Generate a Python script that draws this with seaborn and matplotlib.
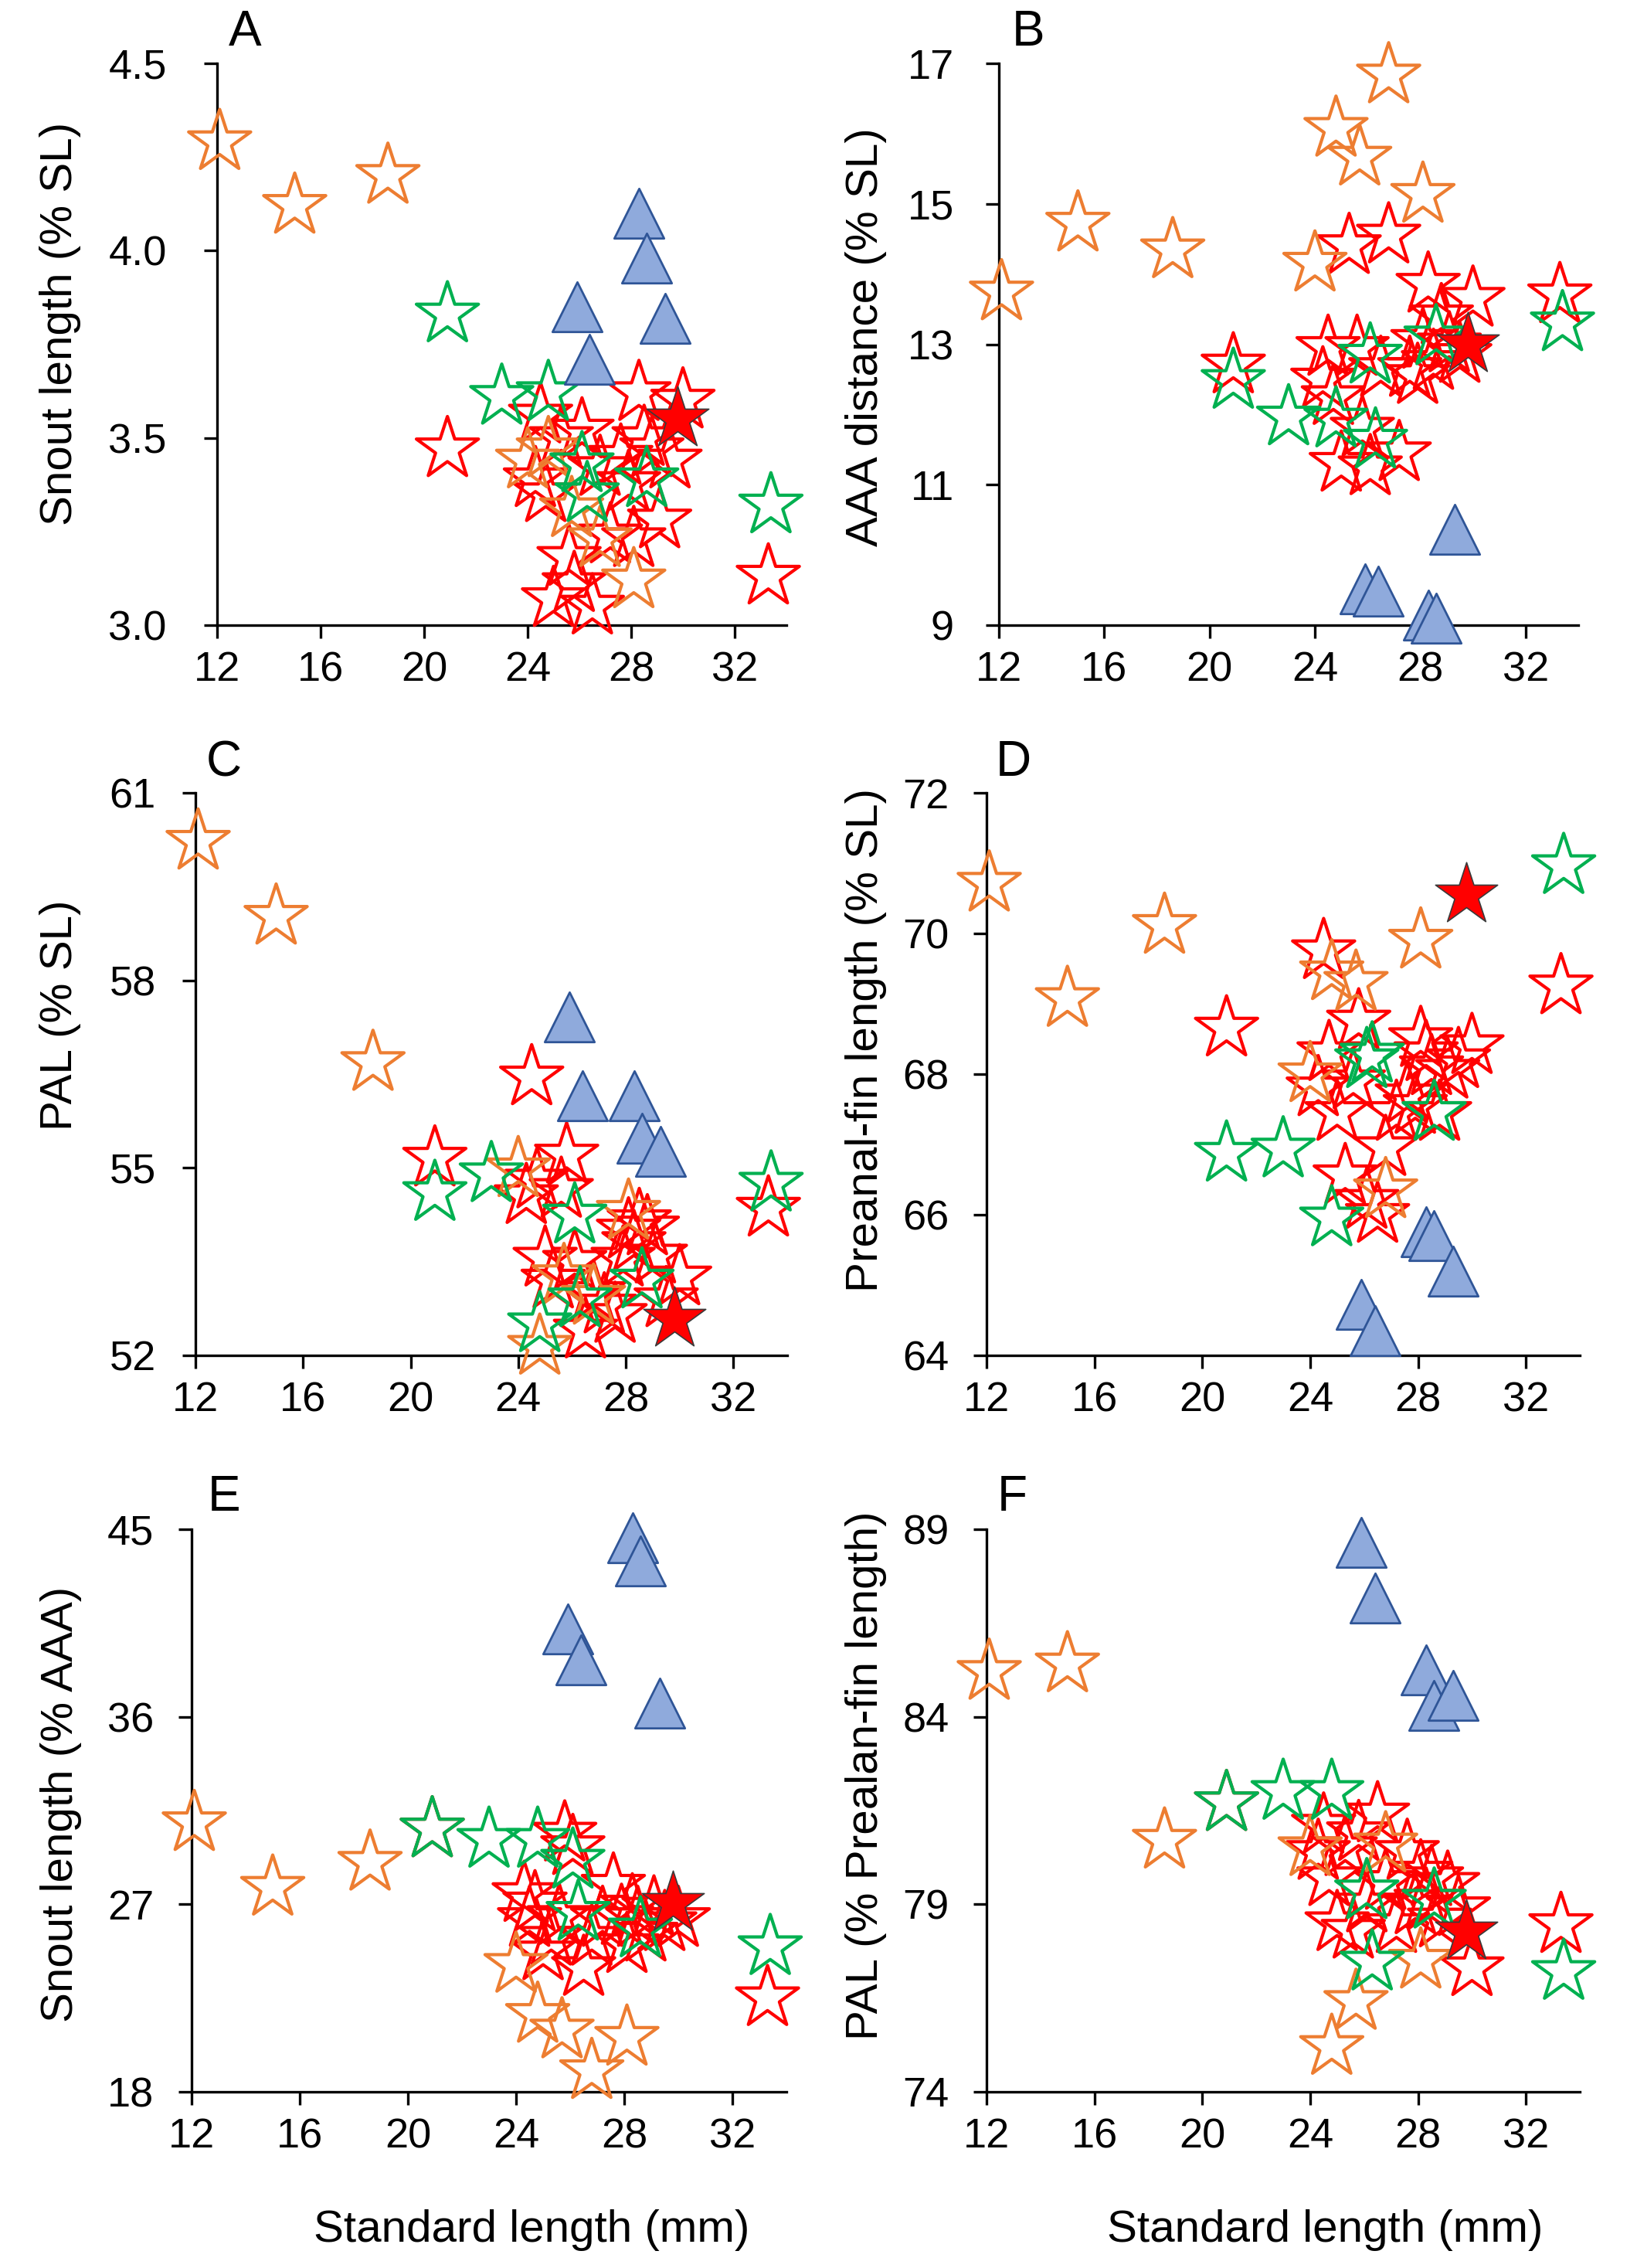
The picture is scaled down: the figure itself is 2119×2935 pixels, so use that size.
import matplotlib
matplotlib.use("Agg")
import matplotlib.pyplot as plt
from matplotlib.ticker import FormatStrFormatter
import seaborn as sns

# standard length (mm) of each group of specimens
sl_orange = [12.1, 15.0, 18.6, 24.0, 24.8, 25.7, 26.8, 28.1]
sl_red = [20.9, 24.3, 24.5, 24.7, 25.0, 25.3, 25.6, 25.8, 26.1, 26.5, 26.8,
          27.2, 27.6, 27.9, 28.1, 28.3, 28.5, 28.8, 29.1, 29.5, 30.0, 33.3]
sl_green = [20.9, 23.0, 24.8, 26.1, 26.3, 28.6, 33.4]
sl_blue = [25.9, 26.4, 28.3, 28.6, 29.3]
sl_holotype = [29.8]

# A: snout length (% SL)
snout_sl_orange = [4.29, 4.12, 4.20, 3.44, 3.47, 3.31, 3.23, 3.12]
snout_sl_red = [3.47, 3.39, 3.56, 3.35, 3.07, 3.50, 3.18, 3.11, 3.52, 3.05, 3.42,
                3.24, 3.45, 3.38, 3.23, 3.62, 3.50, 3.47, 3.28, 3.44, 3.60, 3.13]
snout_sl_green = [3.83, 3.61, 3.62, 3.43, 3.35, 3.39, 3.32]
snout_sl_blue = [3.85, 3.71, 4.10, 3.98, 3.82]
snout_sl_holotype = [3.55]

# B: AAA distance (% SL)
aaa_sl_orange = [13.74, 14.72, 14.34, 14.15, 16.07, 15.66, 16.83, 15.13]
aaa_sl_red = [12.70, 12.50, 12.95, 12.25, 11.30, 14.40, 12.95, 11.80, 11.25, 12.65, 14.55,
              11.45, 12.65, 12.55, 13.05, 13.85, 12.75, 13.40, 13.00, 12.85, 13.65, 13.70]
aaa_sl_green = [12.48, 11.96, 11.93, 12.84, 11.63, 13.10, 13.30]
aaa_sl_blue = [9.52, 9.48, 9.14, 9.10, 10.37]
aaa_sl_holotype = [13.0]

# C: PAL (% SL)
pal_sl_orange = [60.22, 59.02, 56.68, 54.98, 52.14, 53.27, 52.94, 54.30]
pal_sl_red = [55.15, 54.55, 56.45, 54.80, 53.55, 53.20, 54.65, 55.20, 53.50, 52.40, 53.00,
              52.80, 52.65, 53.55, 54.00, 53.80, 54.15, 54.05, 53.60, 52.90, 53.25, 54.35]
pal_sl_green = [54.60, 54.90, 52.50, 54.24, 52.90, 53.20, 54.75]
pal_sl_blue = [57.42, 56.15, 56.15, 55.47, 55.26]
pal_sl_holotype = [52.58]

# D: preanal-fin length (% SL)
preanal_sl_orange = [70.71, 69.07, 70.11, 68.00, 69.45, 69.30, 66.35, 69.90]
preanal_sl_red = [68.65, 67.80, 69.75, 68.30, 67.45, 66.55, 67.90, 68.75, 66.20, 66.00, 66.95,
                  67.45, 67.70, 67.55, 68.50, 68.30, 68.10, 67.45, 68.05, 68.20, 68.40, 69.25]
preanal_sl_green = [66.87, 66.93, 65.95, 68.20, 68.28, 67.45, 70.96]
preanal_sl_blue = [64.72, 64.35, 65.76, 65.70, 65.20]
preanal_sl_holotype = [70.55]

# E: snout length (% AAA)
snout_aaa_orange = [30.9, 27.8, 29.0, 24.1, 21.7, 20.95, 19.0, 20.6]
snout_aaa_red = [30.6, 27.5, 26.3, 27.05, 24.7, 25.4, 26.4, 30.4, 29.75, 23.95, 25.4,
                 26.3, 27.9, 26.4, 25.05, 26.9, 26.3, 25.6, 26.8, 26.1, 26.3, 22.5]
snout_aaa_green = [30.6, 30.1, 30.1, 29.1, 26.6, 25.8, 24.95]
snout_aaa_blue = [40.2, 38.74, 44.59, 43.49, 36.67]
snout_aaa_holotype = [27.05]

# F: PAL (% preanal-fin length)
pal_pre_orange = [85.2, 85.4, 80.7, 80.5, 75.2, 76.4, 80.6, 77.5]
pal_pre_red = [81.7, 80.4, 81.1, 79.7, 78.5, 80.5, 78.3, 80.9, 79.0, 81.4, 79.6,
               78.45, 80.4, 78.95, 79.85, 79.1, 79.7, 78.6, 79.55, 78.9, 77.3, 78.45]
pal_pre_green = [81.7, 82.0, 82.0, 79.35, 77.45, 79.1, 77.2]
pal_pre_blue = [88.66, 87.16, 85.26, 84.3, 84.58]
pal_pre_holotype = [78.26]

x_ticks = [12, 16, 20, 24, 28, 32]

sns.set_style("ticks")
plt.rcParams["font.family"] = ["Liberation Sans", "DejaVu Sans"]
plt.rcParams["text.color"] = "black"
plt.rcParams["axes.labelcolor"] = "black"

W, H = 2119, 2935
fig = plt.figure(figsize=(W / 100, H / 100), dpi=100)

ORANGE, RED, GREEN = "#ED7D31", "#FF0000", "#00B050"
STAR, TRI = 3700, 2150

# (letter, ylabel, ylim, yticks, fmt, data, axes box px, ylabel px, letter px, ytick pad)
panels = [
    ("A", "Snout length (% SL)", (3.0, 4.5), [3.0, 3.5, 4.0, 4.5], "%.1f",
     (snout_sl_red, snout_sl_orange, snout_sl_green, snout_sl_blue, snout_sl_holotype),
     (281, 1018, 82, 809), (78, 419), (317, 42), 35),
    ("B", "AAA distance (% SL)", (9, 17), [9, 11, 13, 15, 17], "%d",
     (aaa_sl_red, aaa_sl_orange, aaa_sl_green, aaa_sl_blue, aaa_sl_holotype),
     (1293, 2043, 82, 809), (1121, 436), (1331, 42), 30),
    ("C", "PAL (% SL)", (52, 61), [52, 55, 58, 61], "%d",
     (pal_sl_red, pal_sl_orange, pal_sl_green, pal_sl_blue, pal_sl_holotype),
     (253, 1019, 1026, 1754), (78, 1314), (290, 987), 25),
    ("D", "Preanal-fin length (% SL)", (64, 72), [64, 66, 68, 70, 72], "%d",
     (preanal_sl_red, preanal_sl_orange, preanal_sl_green, preanal_sl_blue, preanal_sl_holotype),
     (1277, 2045, 1026, 1754), (1121, 1346), (1312, 987), 23),
    ("E", "Snout length (% AAA)", (18, 45), [18, 27, 36, 45], "%d",
     (snout_aaa_red, snout_aaa_orange, snout_aaa_green, snout_aaa_blue, snout_aaa_holotype),
     (248, 1018, 1979, 2707), (79, 2335), (290, 1938), 23),
    ("F", "PAL (% Prealan-fin length)", (74, 89), [74, 79, 84, 89], "%d",
     (pal_pre_red, pal_pre_orange, pal_pre_green, pal_pre_blue, pal_pre_holotype),
     (1277, 2045, 1979, 2707), (1121, 2298), (1310, 1938), 23),
]

for letter, ylabel, ylim, yticks, fmt, data, box, ylab_pos, let_pos, ypad in panels:
    left, right, top, bottom = box
    ax = fig.add_axes([left / W, 1 - bottom / H, (right - left) / W, (bottom - top) / H])
    red, orange, green, blue, holo = data

    hollow = dict(marker="*", s=STAR, facecolor="none", linewidth=3.0)
    sns.scatterplot(x=sl_red, y=red, ax=ax, edgecolor=RED, clip_on=False, legend=False, zorder=3, **hollow)
    sns.scatterplot(x=sl_orange, y=orange, ax=ax, edgecolor=ORANGE, clip_on=False, legend=False, zorder=4, **hollow)
    sns.scatterplot(x=sl_green, y=green, ax=ax, edgecolor=GREEN, clip_on=False, legend=False, zorder=5, **hollow)
    sns.scatterplot(x=sl_blue, y=blue, ax=ax, marker="^", s=TRI, facecolor="#8FAADC",
                    edgecolor="#2F5597", linewidth=2.0, clip_on=False, legend=False, zorder=6)
    sns.scatterplot(x=sl_holotype, y=holo, ax=ax, marker="*", s=STAR, facecolor=RED,
                    edgecolor="#3A3A3A", linewidth=1.2, clip_on=False, legend=False, zorder=7)

    ax.set_xlim(12, 34)
    ax.set_ylim(*ylim)
    ax.set_xticks(x_ticks)
    ax.set_yticks(yticks)
    ax.yaxis.set_major_formatter(FormatStrFormatter(fmt))
    for side in ["top", "right"]:
        ax.spines[side].set_visible(False)
    for side in ["left", "bottom"]:
        ax.spines[side].set_linewidth(2.4)
        ax.spines[side].set_color("black")
    ax.tick_params(direction="out", length=12, width=2.4, labelsize=39, colors="black")
    ax.tick_params(axis="x", pad=12)
    ax.tick_params(axis="y", pad=ypad)

    ax.set_ylabel(ylabel, fontsize=42, va="center")
    ax.yaxis.set_label_coords(ylab_pos[0] / W, 1 - ylab_pos[1] / H, transform=fig.transFigure)
    if letter in ("E", "F"):
        ax.set_xlabel("Standard length (mm)", fontsize=42, va="center")
        ax.xaxis.set_label_coords((688 if letter == "E" else 1715) / W, 1 - 2886 / H,
                                  transform=fig.transFigure)
    else:
        ax.set_xlabel("")
    fig.text(let_pos[0] / W, 1 - let_pos[1] / H, letter, fontsize=46, ha="center", va="center")

fig.savefig("out.png", dpi=100)
